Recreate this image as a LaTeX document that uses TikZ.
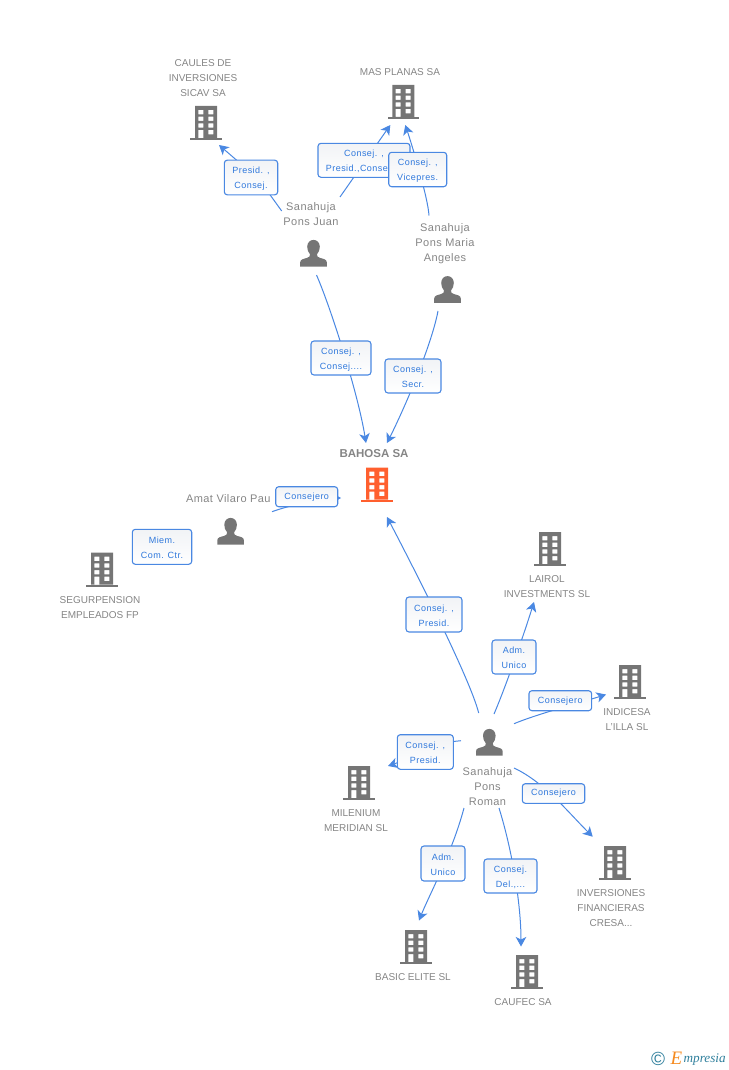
\documentclass[tikz,border=0pt]{standalone}
\usepackage{fontspec}
\setmainfont{Liberation Sans}
\newfontfamily\lblfont[LetterSpace=5]{Liberation Sans}
\newfontfamily\namefont[LetterSpace=4]{Liberation Sans}
\newfontfamily\logofont{Liberation Serif}
\usetikzlibrary{arrows.meta,calc}
\definecolor{icongray}{HTML}{757575}
\definecolor{textgray}{HTML}{858585}
\definecolor{orgcol}{HTML}{FF5F2E}
\definecolor{linkblue}{HTML}{4A88E2}
\definecolor{labelblue}{HTML}{2F78DC}
\definecolor{labeltop}{HTML}{F1F3F6}
\definecolor{logoteal}{HTML}{2F7F9C}
\definecolor{logoorange}{HTML}{F58A1F}
\newcommand\lup{\rule{0pt}{9pt}}
\tikzset{
  x=1pt,y=-1pt,
  bld/.style={minimum width=32pt,minimum height=34pt,inner sep=0pt,outer sep=0pt,
    path picture={\begin{scope}[shift={(path picture bounding box.center)}]
      \fill[#1,even odd rule] (-11,-17) rectangle (11,15)
        (-7.6,-13) rectangle (-2.6,-8.7) (2.4,-13) rectangle (7.4,-8.7)
        (-7.6,-6.3) rectangle (-2.6,-2) (2.4,-6.3) rectangle (7.4,-2)
        (-7.6,0.3) rectangle (-2.6,4.7) (2.4,0.3) rectangle (7.4,4.7)
        (-7.6,7) rectangle (-2.6,15) (2.4,7) rectangle (7.4,11.3);
      \fill[#1] (-15.7,15) rectangle (15.7,17);
    \end{scope}}},
  psn/.style={minimum width=27pt,minimum height=27pt,inner sep=0pt,outer sep=0pt,
    path picture={\begin{scope}[shift={(path picture bounding box.center)}]
      \fill[icongray] (-13.3,13.4) -- (-13.3,9) .. controls (-13.3,6) and (-10,5.6) .. (-6.5,4.6)
        .. controls (-4,3.8) and (-3.4,3) .. (-3.5,1)
        .. controls (-5.3,-1) and (-6.3,-3.5) .. (-6.3,-6.5)
        .. controls (-6.3,-10.8) and (-3.4,-13.4) .. (0,-13.4)
        .. controls (3.4,-13.4) and (6.3,-10.8) .. (6.3,-6.5)
        .. controls (6.3,-3.5) and (5.3,-1) .. (3.5,1)
        .. controls (3.4,3) and (4,3.8) .. (6.5,4.6)
        .. controls (10,5.6) and (13.3,6) .. (13.3,9) -- (13.3,13.4) -- cycle;
    \end{scope}}},
  conn/.style={draw=linkblue,line width=1pt,-{Stealth[length=9.5pt,width=10.5pt,inset=2.6pt]}},
  lbl/.style={draw=linkblue,line width=1.1pt,rounded corners=3pt,top color=labeltop,bottom color=white,
    inner sep=0pt,outer sep=0pt,align=center,text=labelblue,font={\lblfont\fontsize{9}{15}\selectfont}},
  org/.style={text=textgray,align=center,inner sep=0pt,font={\fontsize{10}{15}\selectfont}},
  per/.style={text=textgray,align=center,inner sep=0pt,font={\namefont\fontsize{11}{15}\selectfont}},
}
\begin{document}
\begin{tikzpicture}
\useasboundingbox (0,0) rectangle (728,1070);
% icons
\node[bld=icongray] (caulesI) at (206,123) {};
\node[bld=icongray] (masI) at (403.3,102) {};
\node[bld=orgcol] (bahosaI) at (377,484.7) {};
\node[bld=icongray] (segurI) at (102,569.7) {};
\node[bld=icongray] (lairolI) at (550,549) {};
\node[bld=icongray] (indicesaI) at (630,682) {};
\node[bld=icongray] (mileniumI) at (359,783) {};
\node[bld=icongray] (inverI) at (615,863) {};
\node[bld=icongray] (basicI) at (416,947) {};
\node[bld=icongray] (caufecI) at (527,972) {};
\node[psn] (juanI) at (313.5,253.3) {};
\node[psn] (mariaI) at (447.5,289.5) {};
\node[psn] (amatI) at (230.6,531.3) {};
\node[psn] (romanI) at (489.3,742.3) {};
% texts
\node[org] (caulesT) at (203,77.8) {CAULES DE\\INVERSIONES\\SICAV SA};
\node[org] (masT) at (400,71.8) {MAS PLANAS SA};
\node[org,font={\bfseries\fontsize{11.5}{15}\selectfont}] (bahosaT) at (374,454) {BAHOSA SA};
\node[org] (segurT) at (100,607.3) {SEGURPENSION\\EMPLEADOS FP};
\node[org] (lairolT) at (547,586.3) {LAIROL\\INVESTMENTS SL};
\node[org] (indicesaT) at (627,719.3) {INDICESA\\L'ILLA SL};
\node[org] (mileniumT) at (356,820.3) {MILENIUM\\MERIDIAN SL};
\node[org] (inverT) at (611,907.8) {INVERSIONES\\FINANCIERAS\\CRESA...};
\node[org] (basicT) at (413,976.8) {BASIC ELITE SL};
\node[org] (caufecT) at (523,1001.8) {CAUFEC SA};
\node[per] (juanT) at (311,214.5) {Sanahuja\\Pons Juan};
\node[per] (mariaT) at (445,243.5) {Sanahuja\\Pons Maria\\Angeles};
\node[per] (amatT) at (228.3,498.8) {Amat Vilaro Pau};
\node[per] (romanT) at (487.5,786.3) {Sanahuja\\Pons\\Roman};
% connector ends
\coordinate (juanCaules) at ($(juanI)+(-31.8,-42.3)$);
\coordinate (caulesIn) at ($(caulesI)+(13,22)$);
\coordinate (caulesBend) at (259,179.5);
\coordinate (juanMas) at ($(juanI)+(26.5,-56.3)$);
\coordinate (masInA) at ($(masI)+(-13,23)$);
\coordinate (mariaMas) at ($(mariaI)+(-18.5,-74)$);
\coordinate (masInB) at ($(masI)+(2,23)$);
\coordinate (juanBah) at ($(juanI)+(3,21.7)$);
\coordinate (bahInA) at ($(bahosaI)+(-11,-41.7)$);
\coordinate (mariaBah) at ($(mariaI)+(-9.5,21.5)$);
\coordinate (bahInB) at ($(bahosaI)+(10,-41.7)$);
\coordinate (amatBah) at ($(amatI)+(41.4,-19.6)$);
\coordinate (bahInC) at ($(bahosaI)+(-36,13.3)$);
\coordinate (romanBah) at ($(romanI)+(-10.6,-29.3)$);
\coordinate (bahInD) at ($(bahosaI)+(10,32.3)$);
\coordinate (romanLai) at ($(romanI)+(4.7,-28.3)$);
\coordinate (laiIn) at ($(lairolI)+(-16,53)$);
\coordinate (romanInd) at ($(romanI)+(24.7,-18.6)$);
\coordinate (indIn) at ($(indicesaI)+(-24,12.5)$);
\coordinate (romanMil) at ($(romanI)+(-28.3,-1.6)$);
\coordinate (milIn) at ($(mileniumI)+(29,-17)$);
\coordinate (romanInv) at ($(romanI)+(24.7,25.7)$);
\coordinate (invIn) at ($(inverI)+(-22.3,-26.3)$);
\coordinate (romanBas) at ($(romanI)+(-25.3,65.7)$);
\coordinate (basIn) at ($(basicI)+(3,-26.5)$);
\coordinate (romanCau) at ($(romanI)+(9.7,65.7)$);
\coordinate (cauIn) at ($(caufecI)+(-6,-25.5)$);
% connectors
\draw[conn] (juanCaules) -- (caulesBend) -- (caulesIn);
\draw[conn] (juanMas) -- (masInA);
\draw[conn] (mariaMas) .. controls +(-1,-18) and +(6,18) .. (masInB);
\draw[conn] (juanBah) .. controls +(14,32) and +(-8,-50) .. (bahInA);
\draw[conn] (mariaBah) .. controls +(-6,32) and +(20,-40) .. (bahInB);
\draw[conn] (amatBah) .. controls +(25,-9) and +(-12,0) .. (bahInC);
\draw[conn] (romanBah) .. controls +(-9,-36) and +(20,38) .. (bahInD);
\draw[conn] (romanLai) .. controls +(12,-28) and +(-10,32) .. (laiIn);
\draw[conn] (romanInd) .. controls +(24,-10) and +(-25,8) .. (indIn);
\draw[conn] (romanMil) .. controls +(-30,2) and +(15,-5) .. (milIn);
\draw[conn] (romanInv) .. controls +(30,14) and +(-25,-25) .. (invIn);
\draw[conn] (romanBas) .. controls +(-12,45) and +(10,-25) .. (basIn);
\draw[conn] (romanCau) .. controls +(14,45) and +(0,-40) .. (cauIn);
% labels
\node[lbl,minimum width=53.4pt,minimum height=34.7pt] (lCaules) at (251,177.5) {\lup Presid. ,\\Consej.};
\node[lbl,minimum width=92pt,minimum height=34pt] (lMas) at (364,160.3) {\lup Consej. ,\\Presid.,Consej....};
\node[lbl,minimum width=58pt,minimum height=34.4pt] (lVice) at (417.7,169.5) {\lup Consej. ,\\Vicepres.};
\node[lbl,minimum width=60pt,minimum height=34pt] (lJuanB) at (341,358) {\lup Consej. ,\\Consej....};
\node[lbl,minimum width=56pt,minimum height=34pt] (lMariaB) at (413,376) {\lup Consej. ,\\Secr.};
\node[lbl,minimum width=62pt,minimum height=20pt] (lAmat) at (306.7,496.7) {Consejero};
\node[lbl,minimum width=59.4pt,minimum height=35pt] (lSeg) at (162,546.8) {\lup Miem.\\Com. Ctr.};
\node[lbl,minimum width=56pt,minimum height=35pt] (lRomB) at (434,614.5) {\lup Consej. ,\\Presid.};
\node[lbl,minimum width=44pt,minimum height=34pt] (lLai) at (514,657) {\lup Adm.\\Unico};
\node[lbl,minimum width=62.7pt,minimum height=20pt] (lInd) at (560.3,700.7) {Consejero};
\node[lbl,minimum width=56pt,minimum height=34.6pt] (lMil) at (425.3,752) {\lup Consej. ,\\Presid.};
\node[lbl,minimum width=62.4pt,minimum height=19.6pt] (lInv) at (553.5,793.5) {Consejero};
\node[lbl,minimum width=44pt,minimum height=35pt] (lBas) at (443,863.5) {\lup Adm.\\Unico};
\node[lbl,minimum width=53pt,minimum height=34pt] (lCau) at (510.5,876) {\lup Consej.\\Del.,...};
% logo
\node[inner sep=0pt,text=logoteal,font={\fontsize{19}{19}\selectfont}] (logoC) at (658,1059) {©};
\node[inner sep=0pt,text=logoorange,font={\logofont\itshape\fontsize{19}{19}\selectfont}] (logoE) at (676.5,1058) {E};
\node[inner sep=0pt,anchor=west,text=logoteal,font={\logofont\itshape\fontsize{13.2}{14}\selectfont}] (logoT) at (683.5,1060) {mpresia};
\end{tikzpicture}
\end{document}
